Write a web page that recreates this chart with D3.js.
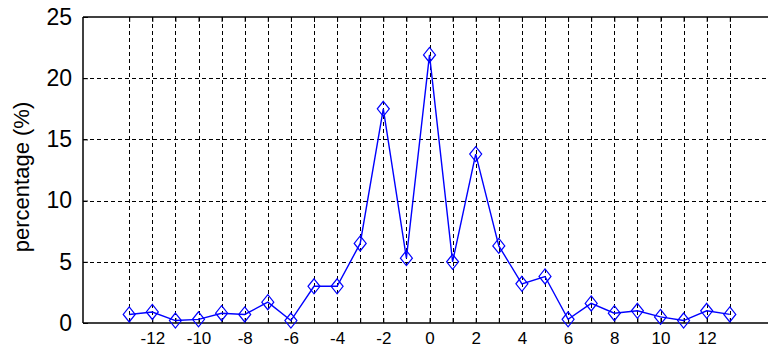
<!DOCTYPE html>
<html><head><meta charset="utf-8">
<script src="https://cdn.jsdelivr.net/npm/d3@7"></script>
<style>
html,body{margin:0;padding:0;background:#fff;}
svg{display:block;}
text{font-family:"Liberation Sans",Arial,sans-serif;fill:#000;}
</style></head>
<body><svg id="c" width="768" height="354"></svg>
<script>
const xValues = [-13,-12,-11,-10,-9,-8,-7,-6,-5,-4,-3,-2,-1,0,1,2,3,4,5,6,7,8,9,10,11,12,13];
const percentages = [0.7,0.9,0.2,0.3,0.8,0.7,1.7,0.2,3.0,3.0,6.5,17.5,5.3,21.9,5.0,13.8,6.3,3.2,3.8,0.3,1.6,0.8,1.0,0.5,0.2,1.0,0.7];
const xTickValues = [-13,-12,-11,-10,-9,-8,-7,-6,-5,-4,-3,-2,-1,0,1,2,3,4,5,6,7,8,9,10,11,12,13];
const xTickLabels = ["","-12","","-10","","-8","","-6","","-4","","-2","","0","","2","","4","","6","","8","","10","","12",""];
const yTickValues = [0,5,10,15,20,25];
const yLabel = "percentage (%)";

(function(){
const svg = d3.select("#c");
const pL = 83, pR = 776, pT = 17, pB = 323;
const x = d3.scaleLinear().domain([-15,15]).range([pL,pR]);
const y = d3.scaleLinear().domain([0,25]).range([pB,pT]);

// grid
const g = svg.append("g");
g.selectAll("line.vg").data(xTickValues).join("line")
  .attr("x1",d=>Math.round(x(d))+0.5).attr("x2",d=>Math.round(x(d))+0.5)
  .attr("y1",pT).attr("y2",pB)
  .attr("stroke","#000").attr("stroke-width",1).attr("stroke-dasharray","4,3");
g.selectAll("line.hg").data(yTickValues.filter(d=>d>0&&d<25)).join("line")
  .attr("x1",pL).attr("x2",pR)
  .attr("y1",d=>Math.round(y(d))+0.5).attr("y2",d=>Math.round(y(d))+0.5)
  .attr("stroke","#000").attr("stroke-width",1).attr("stroke-dasharray","4,3");

// axes (ticks inward)
const xAxisB = d3.axisBottom(x).tickValues(xTickValues).tickSize(-5).tickPadding(10)
  .tickFormat((d,i)=>xTickLabels[i]);
const gx = svg.append("g").attr("transform",`translate(0,${pB})`).call(xAxisB);
gx.select(".domain").attr("d",`M${pL},0H${pR}`).attr("stroke-width",1.5);
gx.selectAll("text").attr("font-size",17).attr("font-family","Liberation Sans, Arial, sans-serif").attr("dy","0.71em").attr("y",9);

const xAxisT = d3.axisTop(x).tickValues(xTickValues).tickSize(-5).tickFormat("");
const gxt = svg.append("g").attr("transform",`translate(0,${pT})`).call(xAxisT);
gxt.select(".domain").attr("d",`M${pL},0H${pR}`).attr("stroke-width",1.5);

const yAxisL = d3.axisLeft(y).tickValues(yTickValues).tickSize(-5).tickPadding(11);
const gy = svg.append("g").attr("transform",`translate(${pL},0)`).call(yAxisL);
gy.select(".domain").attr("d",`M0,${pT}V${pB}`).attr("stroke-width",1.5);
gy.selectAll("text").attr("font-size",23).attr("font-family","Liberation Sans, Arial, sans-serif");
svg.selectAll(".tick line").attr("stroke","#000");

// y label
svg.append("text").attr("transform","translate(29,177) rotate(-90)")
  .attr("text-anchor","middle").attr("font-size",22).text(yLabel);

// data line
const line = d3.line().x((d,i)=>x(xValues[i])).y(d=>y(d));
svg.append("path").datum(percentages).attr("d",line)
  .attr("fill","none").attr("stroke","#0000ff").attr("stroke-width",1.4);
svg.selectAll("path.mk").data(percentages).join("path").attr("class","mk")
  .attr("transform",(d,i)=>`translate(${x(xValues[i])},${y(d)})`)
  .attr("d","M0,-7.5L6,0L0,7.5L-6,0Z")
  .attr("fill","none").attr("stroke","#0000ff").attr("stroke-width",1.2);
})();
</script></body></html>
